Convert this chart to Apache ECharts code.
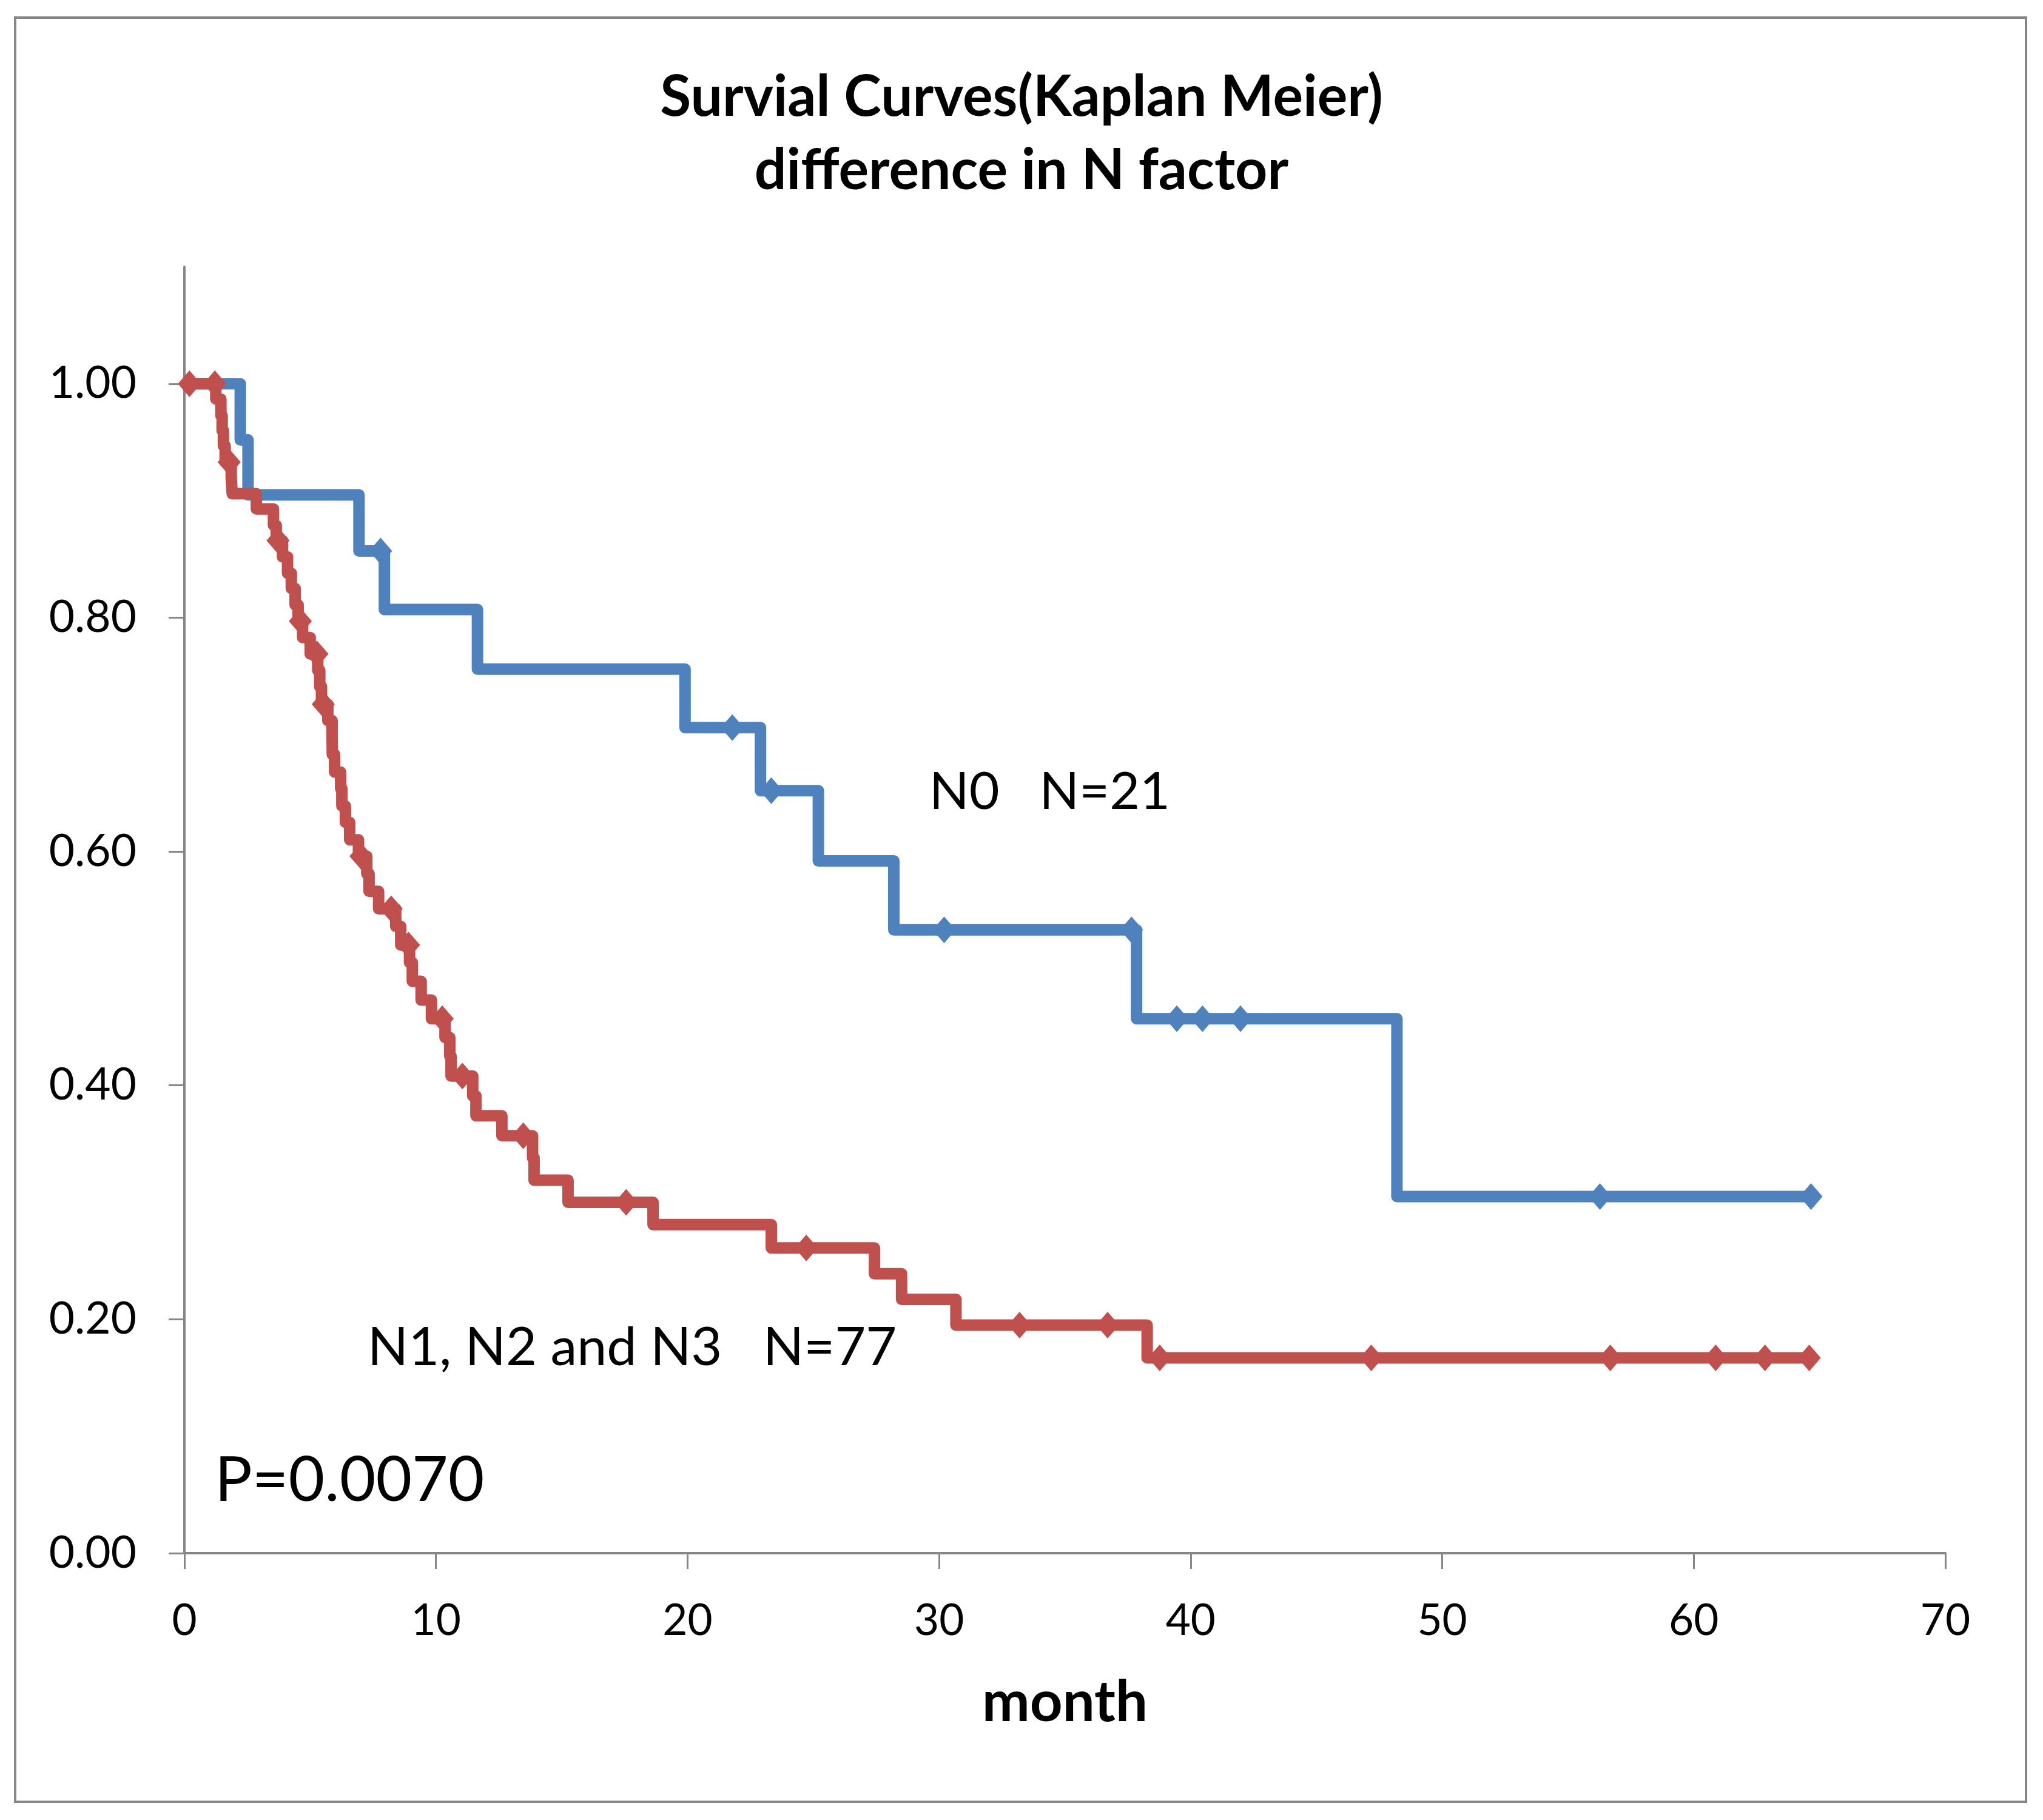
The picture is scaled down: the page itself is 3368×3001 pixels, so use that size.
<!DOCTYPE html>
<html><head><meta charset="utf-8">
<script src="https://cdn.jsdelivr.net/npm/echarts@6/dist/echarts.min.js"></script>
<style>html,body{margin:0;padding:0;background:#fff}#c{width:3368px;height:3001px}</style>
</head><body><div id="c"></div>
<script>
// ---- text ----
const titleLines = ['Survial Curves(Kaplan Meier)', 'difference in N factor'];
const xAxisName = 'month';
const xTickValues = [0, 10, 20, 30, 40, 50, 60, 70];
const yTickValues = [0, 0.2, 0.4, 0.6, 0.8, 1.0];
const labelN0 = 'N0   N=21';
const labelN123 = 'N1, N2 and N3   N=77';
const labelP = 'P=0.0070';

// ---- N0 (N=21): step points (month, survival) ----
const n0Months   = [0, 2.22, 2.53, 6.94, 7.95, 11.65, 19.9, 22.9, 25.2, 28.2, 37.85, 48.2, 64.66];
const n0Survival = [1.0, 0.952, 0.905, 0.857, 0.807, 0.756, 0.706, 0.652, 0.592, 0.533, 0.457, 0.305, 0.305];
// censored (diamonds)
const n0CensorMonths   = [7.8, 21.78, 23.33, 30.2, 37.65, 39.45, 40.47, 41.98, 56.27, 64.66];
const n0CensorSurvival = [0.857, 0.706, 0.652, 0.533, 0.533, 0.457, 0.457, 0.457, 0.305, 0.305];

// ---- N1, N2 and N3 (N=77): step points ----
const nPosMonths = [0, 1.25, 1.45, 1.50, 1.55, 1.62, 1.86, 1.90, 2.86, 3.54, 3.65, 3.90, 4.10, 4.25, 4.40, 4.52,
  4.70, 5.00, 5.30, 5.38, 5.45, 5.70, 5.87, 5.88, 5.97, 6.21, 6.26, 6.40, 6.57, 6.92, 7.25, 7.34, 7.72,
  8.40, 8.60, 8.95, 9.06, 9.41, 9.82, 10.36, 10.55, 10.60, 11.46, 11.59, 12.62, 13.84, 13.90, 15.25,
  18.63, 23.33, 27.43, 28.51, 30.67, 38.27, 64.59];
const nPosSurvival = [1.000, 0.987, 0.973, 0.960, 0.947, 0.933, 0.920, 0.906, 0.893, 0.879, 0.866, 0.852, 0.838, 0.825, 0.811, 0.797,
  0.783, 0.769, 0.755, 0.741, 0.726, 0.712, 0.697, 0.683, 0.668, 0.654, 0.639, 0.625, 0.610, 0.596, 0.581, 0.566, 0.551,
  0.536, 0.520, 0.505, 0.489, 0.473, 0.457, 0.441, 0.425, 0.408, 0.391, 0.374, 0.357, 0.338, 0.319, 0.300,
  0.281, 0.261, 0.239, 0.217, 0.195, 0.167, 0.167];
const nPosCensorMonths   = [0.2, 1.21, 1.78, 3.72, 4.61, 5.27, 5.52, 7.02, 8.22, 8.91, 10.25, 11.05, 13.47, 17.56, 24.72, 33.2, 36.7, 38.77, 47.18, 56.68, 60.87, 62.83, 64.59];
const nPosCensorSurvival = [1.0, 1.0, 0.933, 0.866, 0.797, 0.769, 0.726, 0.596, 0.551, 0.520, 0.457, 0.408, 0.357, 0.300, 0.261, 0.195, 0.195, 0.167, 0.167, 0.167, 0.167, 0.167, 0.167];

const BLUE = '#4F81BD', RED = '#C0504D', AXIS = '#868686';
const zip = (a, b) => a.map((v, i) => [v, b[i]]);

const chart = echarts.init(document.getElementById('c'), null, {renderer: 'canvas', width: 3368, height: 3001});
const lineStyleOf = c => ({color: c, width: 19, join: 'round', cap: 'butt'});
const MARK = [38, 44];
chart.setOption({
  animation: false,
  backgroundColor: '#ffffff',
  title: {
    text: titleLines.join('\n'), left: 'center', top: 95,
    textStyle: {fontFamily: 'Lato', fontWeight: 'bold', fontSize: 93, lineHeight: 121, color: '#000'}
  },
  grid: {left: 304, right: 161, top: 440, bottom: 440},
  xAxis: {
    type: 'value', min: 0, max: 70, interval: 10,
    name: xAxisName, nameLocation: 'middle', nameGap: 200,
    nameTextStyle: {fontFamily: 'Lato', fontWeight: 'bold', fontSize: 94, color: '#000'},
    axisLine: {show: true, onZero: false, lineStyle: {color: AXIS, width: 4}},
    axisTick: {show: true, length: 26, customValues: xTickValues, lineStyle: {color: AXIS, width: 3}},
    axisLabel: {margin: 77, customValues: xTickValues, fontFamily: 'Lato', fontSize: 71, color: '#000'},
    splitLine: {show: false}
  },
  yAxis: {
    type: 'value', min: 0, max: 1.1,
    axisLine: {show: true, lineStyle: {color: AXIS, width: 4}},
    axisTick: {show: true, length: 26, customValues: yTickValues, lineStyle: {color: AXIS, width: 3}},
    axisLabel: {margin: 79, customValues: yTickValues, formatter: v => v.toFixed(2), fontFamily: 'Lato', fontSize: 73, color: '#000'},
    splitLine: {show: false}
  },
  series: [
    {name: 'N0', type: 'line', step: 'end', symbol: 'none', data: zip(n0Months, n0Survival), lineStyle: lineStyleOf(BLUE), z: 2},
    {name: 'N0 censored', type: 'scatter', symbol: 'diamond', symbolSize: MARK, data: zip(n0CensorMonths, n0CensorSurvival), itemStyle: {color: BLUE, opacity: 1}, z: 3},
    {name: 'N1-3', type: 'line', step: 'end', symbol: 'none', data: zip(nPosMonths, nPosSurvival), lineStyle: lineStyleOf(RED), z: 4},
    {name: 'N1-3 censored', type: 'scatter', symbol: 'diamond', symbolSize: MARK, data: zip(nPosCensorMonths, nPosCensorSurvival), itemStyle: {color: RED, opacity: 1}, z: 5}
  ],
  graphic: [
    {type: 'rect', silent: true, z: -10, shape: {x: 25, y: 29, width: 3315, height: 2942}, style: {fill: 'none', stroke: AXIS, lineWidth: 4}},
    {type: 'text', silent: true, x: 1532, y: 1306, style: {text: labelN0, fontFamily: 'Lato', fontSize: 86, fill: '#000', align: 'left', verticalAlign: 'middle'}},
    {type: 'text', silent: true, x: 606, y: 2223, style: {text: labelN123, fontFamily: 'Lato', fontSize: 88, fill: '#000', align: 'left', verticalAlign: 'middle'}},
    {type: 'text', silent: true, x: 354, y: 2442, style: {text: labelP, fontFamily: 'Lato', fontSize: 103, fill: '#000', align: 'left', verticalAlign: 'middle'}}
  ]
});
</script></body></html>
